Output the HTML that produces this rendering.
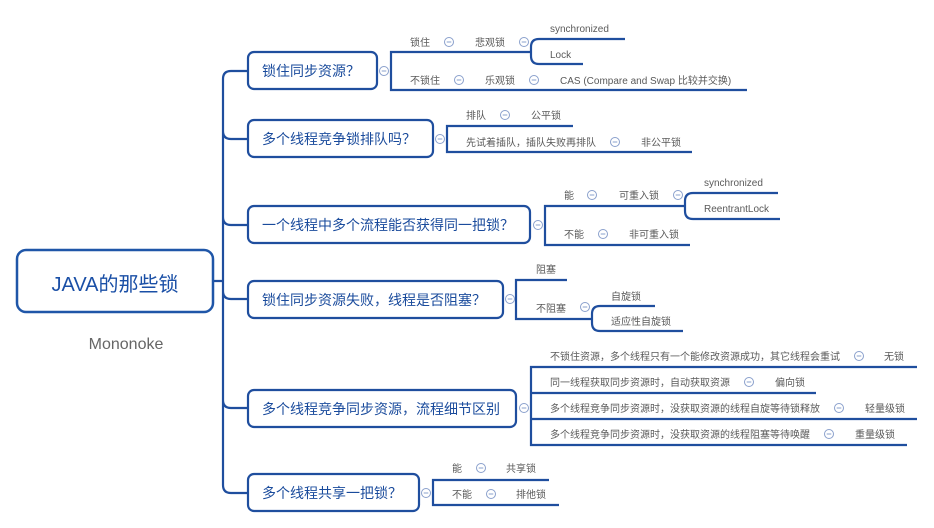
<!DOCTYPE html>
<html><head><meta charset="utf-8"><style>
html,body{margin:0;padding:0;background:#fff;width:934px;height:528px;overflow:hidden}
svg{display:block}
text{font-family:"Liberation Sans","Noto Sans CJK SC",sans-serif}
.n{font-size:14px;fill:#1a4b9c}
.l{font-size:10px;fill:#5a5a5a}
.b{fill:#fff;stroke:#1f4e9e;stroke-width:2.2}
.ln{fill:none;stroke:#1f4e9e;stroke-width:2.2}
.c{fill:#fff;stroke:#8aa0cc;stroke-width:1}
.m{stroke:#8aa0cc;stroke-width:1}
</style></head><body>
<svg width="934" height="528" viewBox="0 0 934 528" xmlns="http://www.w3.org/2000/svg">
<defs>
<g id="cc"><circle r="4.5" class="c"/><line x1="-2.3" x2="2.3" y1="0" y2="0" class="m"/></g>
</defs>
<path class="ln" d="M213 281 H223 M248 71 H231 Q223 71 223 79 V485 Q223 493 231 493 H248
M223 131 Q223 139 231 139 H248 M223 217 Q223 225 231 225 H248 M223 291 Q223 299 231 299 H248 M223 400 Q223 408 231 408 H248"/>
<rect x="17" y="250" width="196" height="62" rx="9" fill="#fff" stroke="#1f56a8" stroke-width="2.5"/>
<text x="115" y="291" text-anchor="middle" font-size="20" fill="#1a4fa6">JAVA的那些锁</text>
<text x="126" y="349" text-anchor="middle" font-size="16" fill="#666">Mononoke</text>

<rect class="b" x="248" y="52" width="129" height="37" rx="6"/><text class="n" x="262" y="76">锁住同步资源？</text>
<rect class="b" x="248" y="120" width="185" height="37" rx="6"/><text class="n" x="262" y="144">多个线程竞争锁排队吗？</text>
<rect class="b" x="248" y="206" width="282" height="37" rx="6"/><text class="n" x="262" y="230">一个线程中多个流程能否获得同一把锁？</text>
<rect class="b" x="248" y="281" width="255" height="37" rx="6"/><text class="n" x="262" y="305">锁住同步资源失败，线程是否阻塞？</text>
<rect class="b" x="248" y="390" width="268" height="37" rx="6"/><text class="n" x="262" y="414">多个线程竞争同步资源，流程细节区别</text>
<rect class="b" x="248" y="474" width="171" height="37" rx="6"/><text class="n" x="262" y="498">多个线程共享一把锁？</text>

<path class="ln" d="M390 71 H391 M531 52 H391 V90 H747 M625 39 H539 Q531 39 531 47 V56 Q531 64 539 64 H583"/>
<use href="#cc" x="384" y="71"/>
<text class="l" x="410" y="46">锁住</text><use href="#cc" x="449" y="42"/>
<text class="l" x="475" y="46">悲观锁</text><use href="#cc" x="524" y="42"/>
<text class="l" x="550" y="32">synchronized</text>
<text class="l" x="550" y="58">Lock</text>
<text class="l" x="410" y="84">不锁住</text><use href="#cc" x="459" y="80"/>
<text class="l" x="485" y="84">乐观锁</text><use href="#cc" x="534" y="80"/>
<text class="l" x="560" y="84">CAS (Compare and Swap 比较并交换)</text>

<path class="ln" d="M573 126 H447 V152 H692"/>
<use href="#cc" x="440" y="139"/>
<text class="l" x="466" y="119">排队</text><use href="#cc" x="505" y="115"/>
<text class="l" x="531" y="119">公平锁</text>
<text class="l" x="466" y="146">先试着插队，插队失败再排队</text><use href="#cc" x="615" y="142"/>
<text class="l" x="641" y="146">非公平锁</text>

<path class="ln" d="M685 206 H545 V245 H690 M778 193 H693 Q685 193 685 201 V211 Q685 219 693 219 H780"/>
<use href="#cc" x="538" y="225"/>
<text class="l" x="564" y="199">能</text><use href="#cc" x="592" y="195"/>
<text class="l" x="619" y="199">可重入锁</text><use href="#cc" x="678" y="195"/>
<text class="l" x="704" y="186">synchronized</text>
<text class="l" x="704" y="212">ReentrantLock</text>
<text class="l" x="564" y="238">不能</text><use href="#cc" x="603" y="234"/>
<text class="l" x="629" y="238">非可重入锁</text>

<path class="ln" d="M567 280 H516 V319 H592 M655 306 H600 Q592 306 592 314 V323 Q592 331 600 331 H683"/>
<use href="#cc" x="510" y="299"/>
<text class="l" x="536" y="273">阻塞</text>
<text class="l" x="536" y="312">不阻塞</text><use href="#cc" x="585" y="307"/>
<text class="l" x="611" y="300">自旋锁</text>
<text class="l" x="611" y="325">适应性自旋锁</text>

<path class="ln" d="M917 367 H531 V445 H907 M531 393 H816 M531 419 H917"/>
<use href="#cc" x="524" y="408"/>
<text class="l" x="550" y="360">不锁住资源，多个线程只有一个能修改资源成功，其它线程会重试</text><use href="#cc" x="859" y="356"/>
<text class="l" x="884" y="360">无锁</text>
<text class="l" x="550" y="386">同一线程获取同步资源时，自动获取资源</text><use href="#cc" x="749" y="382"/>
<text class="l" x="775" y="386">偏向锁</text>
<text class="l" x="550" y="412">多个线程竞争同步资源时，没获取资源的线程自旋等待锁释放</text><use href="#cc" x="839" y="408"/>
<text class="l" x="865" y="412">轻量级锁</text>
<text class="l" x="550" y="438">多个线程竞争同步资源时，没获取资源的线程阻塞等待唤醒</text><use href="#cc" x="829" y="434"/>
<text class="l" x="855" y="438">重量级锁</text>

<path class="ln" d="M549 480 H433 V505 H559"/>
<use href="#cc" x="426" y="493"/>
<text class="l" x="452" y="472">能</text><use href="#cc" x="481" y="468"/>
<text class="l" x="506" y="472">共享锁</text>
<text class="l" x="452" y="498">不能</text><use href="#cc" x="491" y="494"/>
<text class="l" x="516" y="498">排他锁</text>
</svg>
</body></html>
